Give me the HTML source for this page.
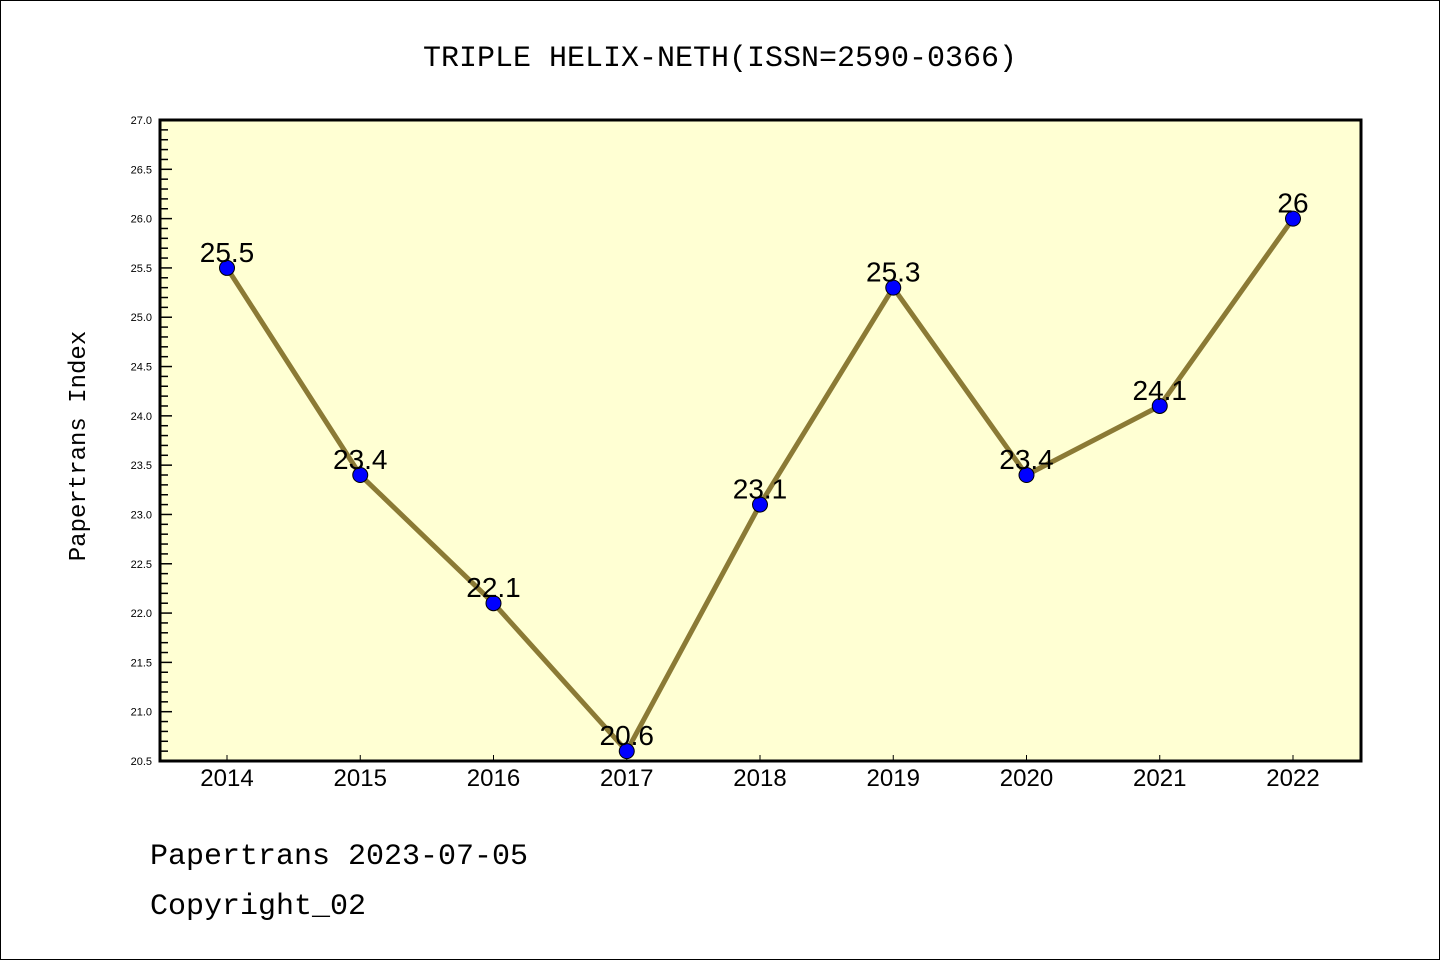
<!DOCTYPE html>
<html><head><meta charset="utf-8"><style>
html,body{margin:0;padding:0;background:#fff}
svg{display:block;font-family:"Liberation Sans","Noto Sans CJK SC",sans-serif}
</style></head><body>
<svg id="chart" width="1440" height="960" viewBox="0 0 1440 960" xmlns="http://www.w3.org/2000/svg">
<rect x="0.5" y="0.5" width="1439" height="959" fill="#fff" stroke="#000" stroke-width="1"/>
<text x="720" y="66" text-anchor="middle" font-size="30" font-family="Liberation Mono, monospace">TRIPLE HELIX-NETH(ISSN=2590-0366)</text>
<rect x="160" y="120" width="1201" height="641" fill="#ffffd3"/>
<g id="axes"></g>
<g id="series"></g>
<rect x="160" y="120" width="1201" height="641" fill="none" stroke="#000" stroke-width="3"/>
<text transform="translate(85,446) rotate(-90)" text-anchor="middle" font-size="24" font-family="Liberation Mono, monospace">Papertrans Index</text>
<text x="150" y="864" font-size="30" font-family="Liberation Mono, monospace">Papertrans 2023-07-05</text>
<text x="150" y="914" font-size="30" font-family="Liberation Mono, monospace">Copyright_02</text>
</svg>
<script>
const categories = ["2014","2015","2016","2017","2018","2019","2020","2021","2022"];
const values = [25.5, 23.4, 22.1, 20.6, 23.1, 25.3, 23.4, 24.1, 26];
const valueLabels = ["25.5","23.4","22.1","20.6","23.1","25.3","23.4","24.1","26"];
const yTicks = ["20.5","21.0","21.5","22.0","22.5","23.0","23.5","24.0","24.5","25.0","25.5","26.0","26.5","27.0"];
const yMin = 20.5, yMax = 27.0;
const NS = "http://www.w3.org/2000/svg";
function yScale(v){ return 761 - (v - yMin) / (yMax - yMin) * 641; }
function xScale(i){ return 227 + i * 133.25; }
function mk(tag, attrs, parent){ const e = document.createElementNS(NS, tag); for (const k in attrs) e.setAttribute(k, attrs[k]); parent.appendChild(e); return e; }
const axes = document.getElementById("axes");
const series = document.getElementById("series");
// minor ticks
for (let v = yMin; v <= yMax + 1e-6; v += 0.1) {
  const y = yScale(v);
  const major = Math.abs(v*2 - Math.round(v*2)) < 1e-6;
  const t = mk("line", {x1:160, x2: major ? 172 : 168, y1:y, y2:y, stroke:"#000", "stroke-width":1.5}, axes);
  
  
}
yTicks.forEach(l => {
  const t = mk("text", {x:152, y:yScale(parseFloat(l))+4, "text-anchor":"end", "font-size":11}, axes);
  t.textContent = l;
  
  
});
categories.forEach((c, i) => {
  const x = xScale(i);
  const tk = mk("line", {x1:x, x2:x, y1:761, y2:755, stroke:"#000", "stroke-width":1}, axes);
  
  
  const t = mk("text", {x:x, y:786, "text-anchor":"middle", "font-size":24}, axes);
  t.textContent = c;
  
  
});
const pts = values.map((v, i) => xScale(i) + "," + yScale(v)).join(" ");
const line = mk("polyline", {points:pts, fill:"none", stroke:"#8b7a35", "stroke-width":5, "stroke-linejoin":"round"}, series);


values.forEach((v, i) => {
  const c = mk("circle", {cx:xScale(i), cy:yScale(v), r:7.5, fill:"#0000ff", stroke:"#000", "stroke-width":1}, series);
  
  
  const t = mk("text", {x:xScale(i), y:yScale(v)-6, "text-anchor":"middle", "font-size":28}, series);
  t.textContent = valueLabels[i];
  
  
});
</script>
</body></html>
